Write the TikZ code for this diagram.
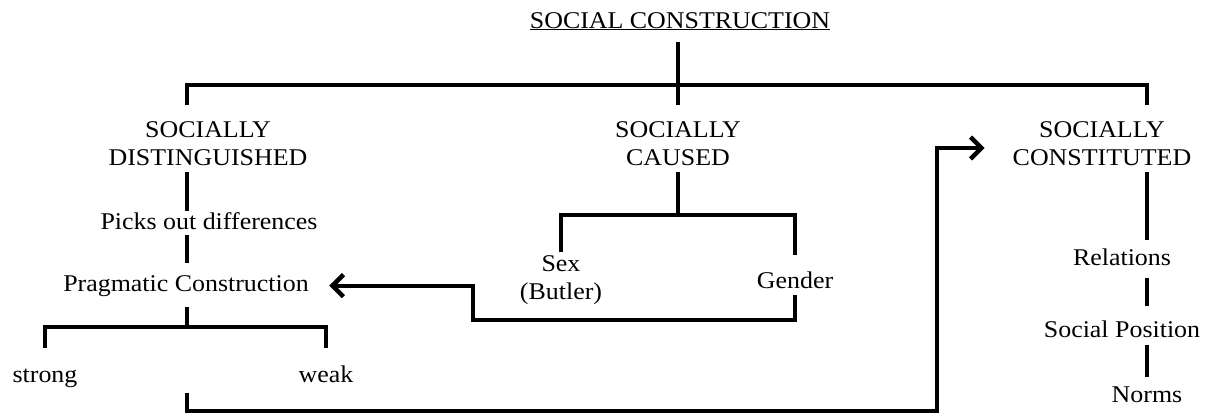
\documentclass[tikz,border=0pt]{standalone}
\usepackage{fontspec}
\setmainfont[FakeStretch=1.08]{Liberation Serif}
\usetikzlibrary{arrows.meta,calc}
\begin{document}
\begin{tikzpicture}[x=1pt,y=-1pt,
  lbl/.style={inner sep=0pt, outer sep=0pt, font=\fontsize{24}{28}\selectfont, align=center},
  conn/.style={line width=4.2pt, line join=miter, line cap=butt},
  arr/.style={conn, -{Straight Barb[length=11pt,width=22pt,line width=4.5pt]}}]
\useasboundingbox (0,0) rectangle (1206,415);
% texts
\node[lbl, anchor=base] (title) at (680,28) {\underline{SOCIAL CONSTRUCTION}};
\node[lbl] (sd) at (208,144) {SOCIALLY\\DISTINGUISHED};
\node[lbl] (sc) at (678,144) {SOCIALLY\\CAUSED};
\node[lbl] (scon) at (1102,144) {SOCIALLY\\CONSTITUTED};
\node[lbl, anchor=base] (pod) at (209,229) {Picks out differences};
\node[lbl, anchor=base] (pc) at (186,291) {Pragmatic Construction};
\node[lbl, anchor=base] (strong) at (45,382) {strong};
\node[lbl, anchor=base] (weak) at (326,382) {weak};
\node[lbl] (sex) at (561,280.5) {Sex\\(Butler)};
\node[lbl, anchor=base] (gender) at (795,288) {Gender};
\node[lbl, anchor=base] (rel) at (1122,265) {Relations};
\node[lbl, anchor=base] (sp) at (1122,337) {Social Position};
\node[lbl, anchor=base] (norms) at (1147,402) {Norms};
% junctions
\coordinate (cL) at (187,85);
\coordinate (cM) at (678,85);
\coordinate (cR) at (1147,85);
\coordinate (jL) at (187,327);
\coordinate (jM) at (678,215);
\coordinate (jG) at (473,320);
\coordinate (jB) at (937,411);
\coordinate (bs) at (187,393);
% top level
\draw[conn, shorten <=11.3pt, shorten >=16.6pt] (title.south -| cM) -- (sc.north);
\draw[conn] ($(sd.north -| cL)+(0,-16.6)$) |- (cM) -| ($(scon.north -| cR)+(0,-16.6)$);
% left column
\draw[conn, shorten <=6pt, shorten >=0.7pt] (sd.south -| cL) -- (pod.north -| cL);
\draw[conn, shorten <=6pt, shorten >=11.8pt] (pod.south -| cL) -- (pc.north -| cL);
\draw[conn, shorten <=11pt] (pc.south -| cL) -- (jL);
\draw[conn] ($(strong.north)+(0,-20)$) |- (jL) -| ($(weak.north)+(0,-17.7)$);
\draw[arr, shorten >=28pt] (bs) |- (jB) |- ($(scon.west)+(0,4)$);
% middle column
\draw[conn, shorten <=5.7pt] (sc.south -| cM) -- (jM);
\draw[conn] ($(sex.north)+(0,-3.8)$) |- (jM) -| ($(gender.north)+(0,-16.7)$);
\draw[arr, shorten >=20.5pt] ($(gender.south)+(0,7)$) |- (jG) |- (pc.east);
% right column
\draw[conn, shorten <=5.7pt, shorten >=8.7pt] (scon.south -| cR) -- (rel.north -| cR);
\draw[conn, shorten <=13pt, shorten >=14.7pt] (rel.south -| cR) -- (sp.north -| cR);
\draw[conn, shorten <=8pt, shorten >=9.3pt] (sp.south -| cR) -- (norms.north);
\end{tikzpicture}
\end{document}
